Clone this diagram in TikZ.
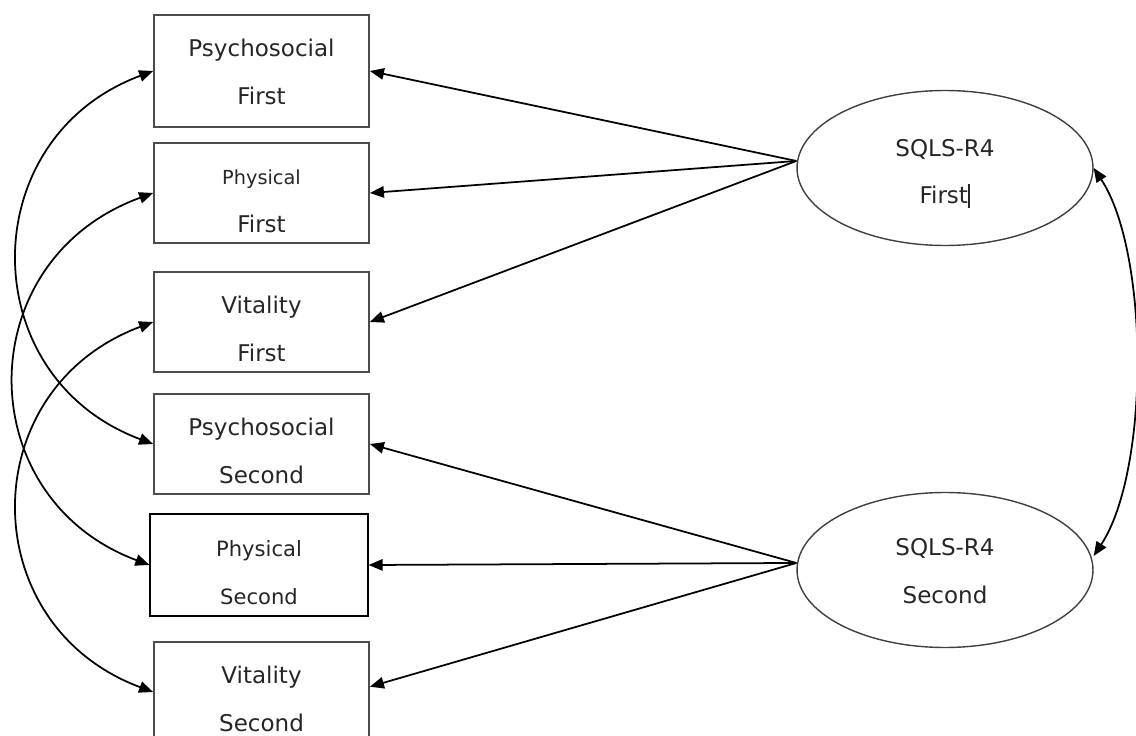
\documentclass[tikz,border=0pt]{standalone}
\usepackage{fontspec}
\setmainfont{DejaVu Sans}
\usetikzlibrary{arrows.meta, shapes.geometric}

% two centred lines, set a little lower in their box
\newcommand{\lowtext}[2][-3.4pt]{\raisebox{#1}[\height][\depth]{\begin{tabular}{@{}c@{}}#2\end{tabular}}}

\tikzset{
  measure/.style={draw=black!70, line width=1pt, minimum width=4.3cm, minimum height=2cm,
    inner ysep=0pt, text=black!85, font=\fontsize{13.1}{27}\selectfont},
  factor/.style={ellipse, draw=black!75, line width=0.8pt, minimum width=5.92cm,
    minimum height=3.1cm, text=black!85, font=\fontsize{13.1}{27}\selectfont},
  load/.style={-{Triangle[length=8pt,width=6.5pt]}, line width=1pt},
  covar/.style={{Triangle[length=8pt,width=6.5pt]}-{Triangle[length=8pt,width=6.5pt]}, line width=1pt}
}

\begin{document}
\begin{tikzpicture}[x=0.02cm, y=-0.02cm]
\useasboundingbox (0,0) rectangle (1136,736);

% observed measures
\node[measure, minimum height=2.24cm] (psyF) at (261.5,71) {\lowtext[0pt]{Psychosocial\\First}};
\node[measure] (phyF) at (261.5,193) {\lowtext{{\fontsize{11}{27}\selectfont Physical}\\First}};
\node[measure] (vitF) at (261.5,322) {\lowtext{Vitality\\First}};
\node[measure] (psyS) at (261.5,444) {\lowtext{Psychosocial\\Second}};
\node[measure, draw=black, line width=0.7pt, minimum width=4.36cm, minimum height=2.04cm,
  font=\fontsize{12}{27}\selectfont] (phyS) at (259,565) {\lowtext{Physical\\Second}};
\node[measure] (vitS) at (261.5,692) {\lowtext{Vitality\\Second}};

% latent factors
\node[factor] (sqF) at (945,168) {\lowtext[-1.3pt]{SQLS-R4\\First\rule[-0.2em]{1.4pt}{1.05em}}};
\node[factor] (sqS) at (945,570) {\lowtext[0pt]{SQLS-R4\\Second}};

\coordinate (hubF) at ([yshift=4pt]sqF.west);
\coordinate (hubS) at ([yshift=4pt]sqS.west);

% loadings
\draw[load] (hubF) -- (psyF.east);
\draw[load] (hubF) -- (phyF.east);
\draw[load] (hubF) -- (vitF.east);
\draw[load] (hubS) -- (psyS.east);
\draw[load] (hubS) -- (phyS.east);
\draw[load] (hubS) -- ([yshift=3pt]vitS.east);

% covariances
\draw[covar] (psyF.west) .. controls +(-180,67) and +(-180,-67) .. (psyS.west);
\draw[covar] (phyF.west) .. controls +(-184,67) and +(-180,-67) .. (phyS.west);
\draw[covar] (vitF.west) .. controls +(-180,67) and +(-180,-67) .. (vitS.west);
\draw[covar] (sqF.east) .. controls +(56,85) and +(56,-85) .. ([yshift=8pt]sqS.east);
\end{tikzpicture}
\end{document}
